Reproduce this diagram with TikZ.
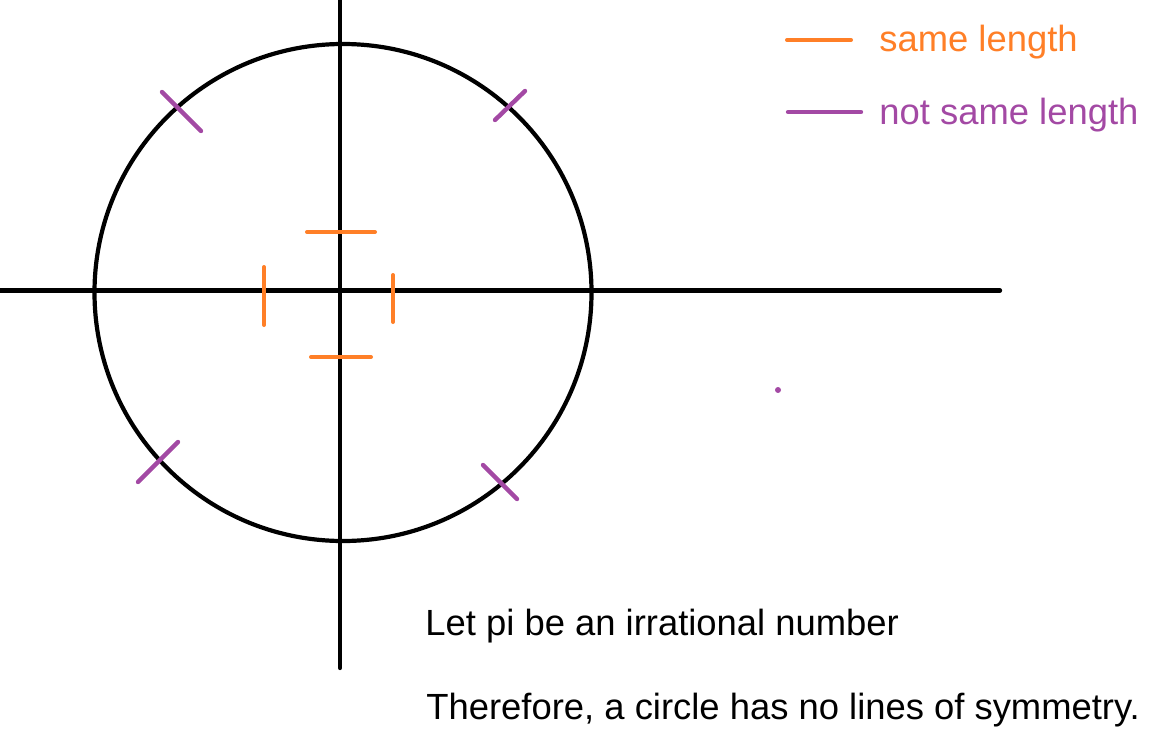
\documentclass[tikz,border=0pt]{standalone}
\usepackage{fontspec}
\setmainfont{Liberation Sans}
\definecolor{paintorange}{RGB}{255,127,39}
\definecolor{paintpurple}{RGB}{163,73,164}

\begin{document}
\begin{tikzpicture}[x=0.5pt, y=-0.5pt, line cap=round, every node/.style={inner sep=0pt, anchor=base west, font=\fontsize{18.2}{22}\selectfont},
axis/.style={black, line width=2.1pt}, same/.style={paintorange, line width=2pt}, notsame/.style={paintpurple, line width=2.2pt}]
\useasboundingbox (0,0) rectangle (1154,743);
\draw [axis] (0,290.5) -- (1000,290.5);
\draw [axis] (340,0) -- (340,668);
\draw [axis] (343,292.5) circle [radius=248.5];
% equal marks
\draw [same] (307,232) -- (375,232);
\draw [same] (311,357) -- (371,357);
\draw [same] (264,267) -- (264,325);
\draw [same] (393,275) -- (393,322);
% unequal marks
\draw [notsame] (162,92) -- (201,131);
\draw [notsame] (495,120) -- (525,91);
\draw [notsame] (138,482) -- (178,442);
\draw [notsame] (483,465) -- (517,499);
\fill [paintpurple] (778,390) circle [radius=3];
% legend
\draw [same] (787,40) -- (851,40);
\node [text=paintorange] (samelabel) at (879,52) {same length};
\draw [notsame] (788,112) -- (861,112);
\node [text=paintpurple] (notsamelabel) at (879,125) {not same length};
\node (premise) at (425,635) {Let pi be an irrational number};
\node (conclusion) at (426,719) {Therefore, a circle has no lines of symmetry.};
\end{tikzpicture}
\end{document}
